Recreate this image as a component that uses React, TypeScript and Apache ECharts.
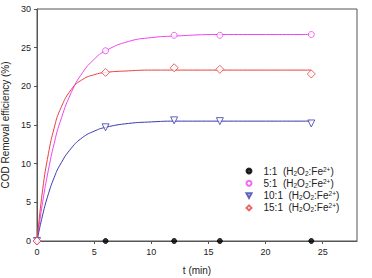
import React, { useEffect, useRef } from "react";
import * as echarts from "echarts";

const timesMeasured = [0, 6, 12, 16, 24];
const ratio1 = [0, 0, 0, 0, 0];
const ratio5 = [0, 24.6, 26.6, 26.6, 26.7];
const ratio10 = [0, 14.7, 15.6, 15.5, 15.2];
const ratio15 = [0, 21.8, 22.4, 22.2, 21.6];

const fitTimes = [0, 0.5, 1, 1.5, 2, 3, 4, 5, 6, 8, 10, 12, 16, 20, 24];
const fit5 = [0, 5.1, 9.2, 12.6, 15.3, 19.2, 21.8, 23.5, 24.6, 25.8, 26.3, 26.5, 26.7, 26.7, 26.7];
const fit10 = [0, 3.4, 6.1, 8.2, 9.8, 12.0, 13.4, 14.2, 14.7, 15.2, 15.4, 15.5, 15.5, 15.5, 15.5];
const fit15 = [0, 6.7, 11.3, 14.6, 16.9, 19.6, 20.9, 21.5, 21.8, 22.0, 22.1, 22.1, 22.1, 22.1, 22.1];

const seriesNames = ["1:1", "5:1", "10:1", "15:1"];
const xTicks = [0, 5, 10, 15, 20, 25];

const MAGENTA = "#ee44ee";
const BLUE = "#3a3ab0";
const RED = "#e84040";
const TRI_DOWN = "path://M0,0 L10,0 L5,9 Z";

function pairs(xs: number[], ys: number[]) {
  return xs.map((x, i) => [x, ys[i]]);
}

export default function App() {
  const ref = useRef<HTMLDivElement>(null);
  useEffect(() => {
    if (!ref.current) return;
    const chart = echarts.init(ref.current, undefined, { renderer: "svg" });
    const axisColor = "#555";
    const font = "Liberation Sans, Arial, sans-serif";
    const fitLine = (data: number[], color: string) => ({
      type: "line",
      data: pairs(fitTimes, data),
      smooth: 0.5,
      showSymbol: false,
      symbol: "none",
      silent: true,
      lineStyle: { color, width: 1 },
      z: 2,
    });
    const scatter = (name: string, ys: number[], symbol: string, color: string, filled: boolean, size: number) => ({
      type: "scatter",
      name,
      data: pairs(timesMeasured, ys),
      symbol,
      symbolSize: size,
      clip: false,
      itemStyle: filled
        ? { color, borderColor: color, borderWidth: 1 }
        : { color: "#ffffff", borderColor: color, borderWidth: 1 },
      z: 3,
    });
    chart.setOption({
      animation: false,
      textStyle: { fontFamily: font },
      grid: {
        left: 37,
        top: 9,
        right: 15,
        bottom: 37,
        outerBoundsMode: "none",
        containLabel: false,
        show: true,
        borderColor: axisColor,
        borderWidth: 1,
        backgroundColor: "transparent",
      },
      xAxis: {
        type: "value",
        min: 0,
        max: 28,
        interval: 5,
        name: "t (min)",
        nameLocation: "middle",
        nameGap: 24,
        nameTextStyle: { fontSize: 10, color: "#222", fontFamily: font },
        axisLine: { show: true, lineStyle: { color: axisColor } },
        axisTick: { show: true, length: 3, customValues: xTicks, lineStyle: { color: axisColor } },
        axisLabel: {
          customValues: xTicks,
          fontSize: 9,
          color: "#222",
          margin: 6,
          fontFamily: font,
        },
        splitLine: { show: false },
      },
      yAxis: {
        type: "value",
        min: 0,
        max: 30,
        interval: 5,
        name: "COD Removal efficiency (%)",
        nameLocation: "middle",
        nameGap: 16,
        nameTextStyle: { fontSize: 10, color: "#222", fontFamily: font },
        axisLine: { show: true, lineStyle: { color: axisColor } },
        axisTick: { show: true, length: 3, lineStyle: { color: axisColor } },
        axisLabel: { fontSize: 9, color: "#222", margin: 6, fontFamily: font },
        splitLine: { show: false },
      },
      legend: {
        data: seriesNames,
        orient: "vertical",
        left: 245.5,
        top: 165.5,
        itemWidth: 5,
        itemHeight: 5,
        itemGap: 1.3,
        padding: 0,
        formatter: (name: string) => `${name}  (H{sub|2}O{sub|2}:Fe{sup|2+})`,
        textStyle: {
          fontSize: 10,
          color: "#222",
          fontFamily: font,
          lineHeight: 11,
          padding: [0, 0, 0, 7],
          rich: {
            sub: { fontSize: 6.5, verticalAlign: "bottom", lineHeight: 11, fontFamily: font, color: "#222" },
            sup: { fontSize: 6.5, verticalAlign: "top", lineHeight: 11, fontFamily: font, color: "#222" },
          },
        },
      },
      series: [
        fitLine(fit5, MAGENTA),
        fitLine(fit10, BLUE),
        fitLine(fit15, RED),
        scatter(seriesNames[0], ratio1, "circle", "#000000", true, 5),
        scatter(seriesNames[1], ratio5, "circle", MAGENTA, false, 6),
        scatter(seriesNames[2], ratio10, TRI_DOWN, BLUE, false, 7),
        scatter(seriesNames[3], ratio15, "diamond", RED, false, 8),
      ],
    });
    return () => chart.dispose();
  }, []);
  return <div ref={ref} style={{ width: 372, height: 278, position: "absolute", left: 0, top: 0 }} />;
}
